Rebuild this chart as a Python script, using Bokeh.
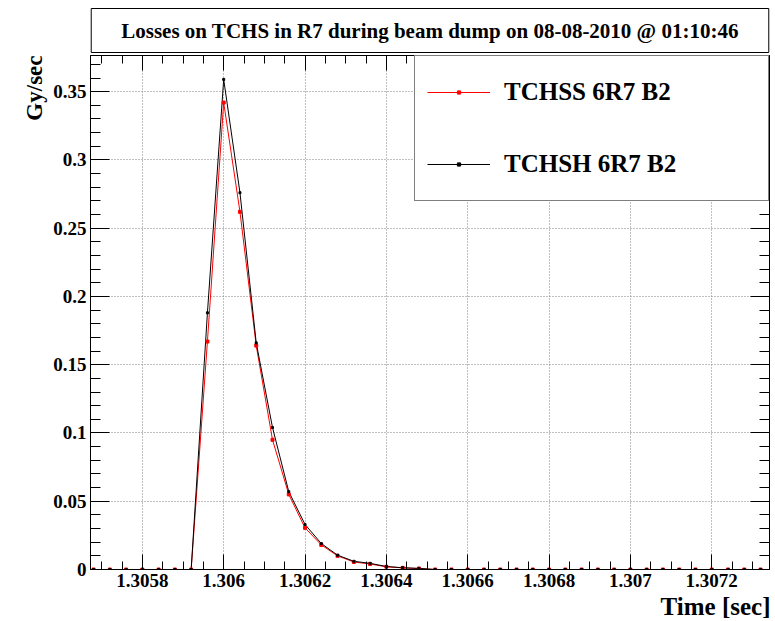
from bokeh.plotting import figure
from bokeh.models import (Range1d, LinearAxis, SingleIntervalTicker, CustomJSTickFormatter,
                          Legend, LegendItem, Grid, Title)
from bokeh.embed import file_html
from bokeh.resources import INLINE

# Sample times [sec] (40 us sampling)
times = [1.30568, 1.30572, 1.30576, 1.30580, 1.30584, 1.30588, 1.30592, 1.30596,
         1.30600, 1.30604, 1.30608, 1.30612, 1.30616, 1.30620, 1.30624, 1.30628,
         1.30632, 1.30636, 1.30640, 1.30644, 1.30648, 1.30652, 1.30656, 1.30660,
         1.30664, 1.30668, 1.30672, 1.30676, 1.30680, 1.30684, 1.30688, 1.30692,
         1.30696, 1.30700, 1.30704, 1.30708, 1.30712, 1.30716, 1.30720, 1.30724,
         1.30728, 1.30732]

# BLM losses [Gy/sec]
tchss_6r7_b2 = [0, 0, 0, 0, 0, 0, 0, 0.167,
                0.342, 0.262, 0.164, 0.095, 0.055, 0.0305, 0.018, 0.010,
                0.0055, 0.0040, 0.0020, 0.0012, 0.0007, 0, 0, 0,
                0, 0, 0, 0, 0, 0, 0, 0,
                0, 0, 0, 0, 0, 0, 0, 0,
                0, 0]
tchsh_6r7_b2 = [0, 0, 0, 0, 0, 0, 0, 0.188,
                0.359, 0.276, 0.166, 0.104, 0.057, 0.033, 0.019, 0.0105,
                0.006, 0.0045, 0.0022, 0.0013, 0.0008, 0, 0, 0,
                0, 0, 0, 0, 0, 0, 0, 0,
                0, 0, 0, 0, 0, 0, 0, 0,
                0, 0]

title_text = "Losses on TCHS in R7 during beam dump on 08-08-2010 @ 01:10:46"
x_label = "Time [sec]"
y_label = "Gy/sec"
series_labels = ["TCHSS 6R7 B2", "TCHSH 6R7 B2"]

X_START, X_END = 1.3056725, 1.307342
Y_START, Y_END = 0.0, 0.3765

FONT = "Liberation Serif"

p = figure(width=775, height=621, output_backend="svg", toolbar_location=None,
           x_range=Range1d(X_START, X_END), y_range=Range1d(Y_START, Y_END),
           x_axis_location=None, y_axis_location=None,
           min_border_left=90, min_border_right=6,
           min_border_top=55, min_border_bottom=52,
           background_fill_color="white", border_fill_color="white",
           outline_line_color="black")
p.grid.visible = False

# boxed title above the frame
p.title = Title(text=title_text, align="center", offset=1, standoff=6,
                text_font=FONT, text_font_style="bold", text_font_size="21px",
                text_color="black", background_fill_color="white",
                border_line_color="black", border_line_width=1,
                padding=dict(left=30, right=30, top=10, bottom=10))

fmt = CustomJSTickFormatter(code="return String(parseFloat(tick.toFixed(6)));")
blank = CustomJSTickFormatter(code="return '';")


def frame_axis(ticker, major_len, minor_len, labelled):
    ax = LinearAxis(ticker=ticker, formatter=fmt if labelled else blank)
    ax.major_tick_in = major_len
    ax.major_tick_out = 0
    ax.minor_tick_in = minor_len
    ax.minor_tick_out = 0
    ax.axis_line_color = "black"
    ax.major_tick_line_color = "black"
    ax.minor_tick_line_color = "black"
    ax.major_label_text_font = FONT
    ax.major_label_text_font_style = "bold"
    ax.major_label_text_font_size = "19px"
    ax.major_label_text_color = "black"
    if not labelled:
        ax.major_label_standoff = 0
    return ax


x_ticker = SingleIntervalTicker(interval=0.0002, num_minor_ticks=4)
y_ticker = SingleIntervalTicker(interval=0.05, num_minor_ticks=5)

bottom_ax = frame_axis(x_ticker, 15, 8, True)
bottom_ax.major_label_standoff = 4
left_ax = frame_axis(y_ticker, 19, 10, True)
left_ax.major_label_standoff = 4
p.add_layout(bottom_ax, "below")
p.add_layout(left_ax, "left")
p.add_layout(frame_axis(x_ticker, 15, 8, False), "above")
p.add_layout(frame_axis(y_ticker, 19, 10, False), "right")

# axis titles, pushed to the far ends of each axis
p.add_layout(Title(text=x_label, align="right", offset=-1, standoff=2,
                   text_font=FONT, text_font_style="bold", text_font_size="25px",
                   text_color="black"), "below")
p.add_layout(Title(text=y_label, align="right", offset=0, standoff=8,
                   text_font=FONT, text_font_style="bold", text_font_size="23px",
                   text_color="black"), "left")

p.add_layout(Grid(dimension=0, ticker=x_ticker, grid_line_color="#808080",
                  grid_line_dash="1 2", grid_line_width=1))
p.add_layout(Grid(dimension=1, ticker=y_ticker, grid_line_color="#808080",
                  grid_line_dash="1 2", grid_line_width=1))

# graphs
red_line = p.line(times, tchss_6r7_b2, line_color="#ff0000", line_width=1)
blk_line = p.line(times, tchsh_6r7_b2, line_color="black", line_width=1)
red_pts = p.scatter(times, tchss_6r7_b2, marker="square", size=3,
                    fill_color="#ff0000", line_color="#ff0000")
blk_pts = p.scatter(times, tchsh_6r7_b2, marker="square", size=2,
                    fill_color="black", line_color="black")

legend = Legend(items=[LegendItem(label=series_labels[0], renderers=[red_line, red_pts]),
                       LegendItem(label=series_labels[1], renderers=[blk_line, blk_pts])],
                location="top_right", margin=0, padding=12, spacing=24,
                glyph_width=63, glyph_height=8, label_height=48, label_width=252,
                label_standoff=14, border_line_color="black", border_line_width=1,
                background_fill_color="white", background_fill_alpha=1,
                label_text_font=FONT, label_text_font_style="bold",
                label_text_font_size="25px", label_text_color="black")
p.add_layout(legend)

open("out.html", "w").write(file_html(p, INLINE))
